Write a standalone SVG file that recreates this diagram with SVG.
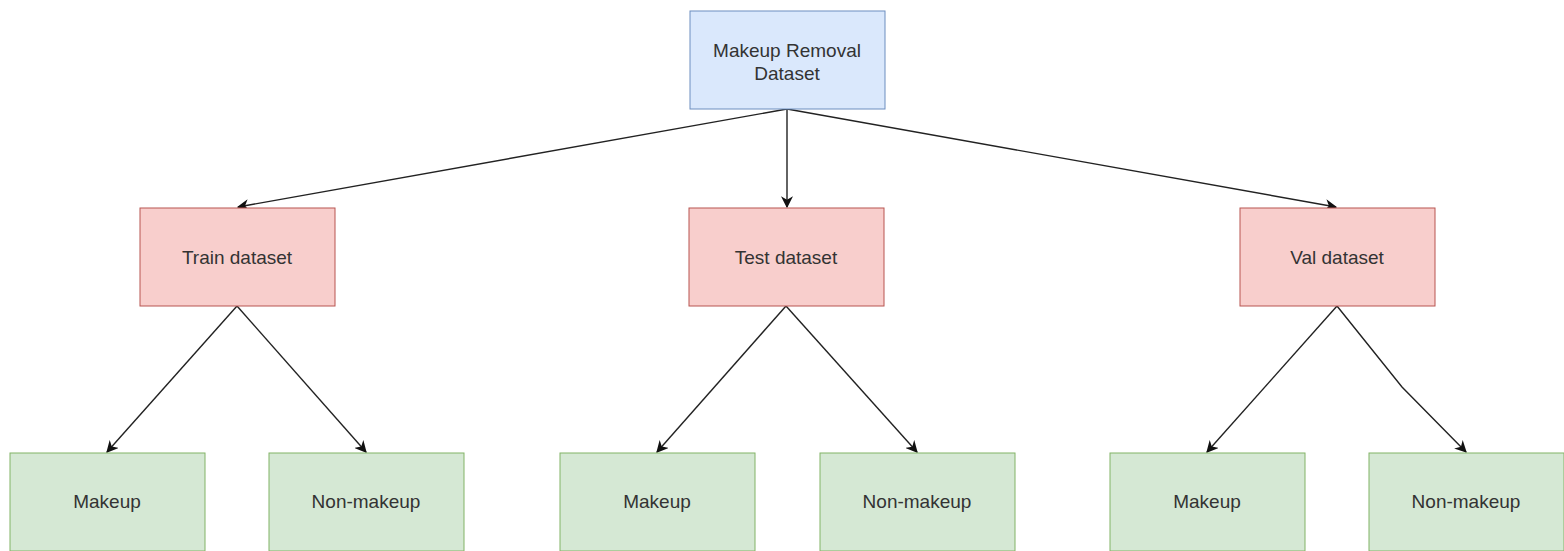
<svg xmlns="http://www.w3.org/2000/svg" width="1564" height="551" viewBox="0 0 1564 551">
  <style>
    .blue { fill: #dae8fc; stroke: #6c8ebf; stroke-width: 1; }
    .red { fill: #f8cecc; stroke: #b85450; stroke-width: 1; }
    .green { fill: #d5e8d4; stroke: #82b366; stroke-width: 1; }
    .lbl { font-family: "Liberation Sans", Arial, sans-serif; font-size: 19px; fill: #333333; text-anchor: middle; }
    .edge { fill: none; stroke: #222222; stroke-width: 1.4; marker-end: url(#arrow); }
  </style>
  <defs>
    <marker id="arrow" viewBox="0 0 10 10" refX="9" refY="5" markerWidth="12" markerHeight="12" markerUnits="userSpaceOnUse" orient="auto">
      <path d="M0,0 L10,5 L0,10 L3,5 Z" fill="#111111"/>
    </marker>
  </defs>
  <rect width="1564" height="551" fill="#ffffff"/>

  <g id="connectors">
    <path class="edge" d="M787,109 L238,207"/>
    <path class="edge" d="M787,109 L787,207"/>
    <path class="edge" d="M787,109 L1336,207"/>
    <path class="edge" d="M237,306 L107,452"/>
    <path class="edge" d="M237,306 L366,452"/>
    <path class="edge" d="M786,306 L657,452"/>
    <path class="edge" d="M786,306 L917,452"/>
    <path class="edge" d="M1337,306 L1402,387 L1466,452"/>
    <path class="edge" d="M1337,306 L1207,452"/>
  </g>

  <g id="root">
    <rect class="blue" x="690" y="11" width="195" height="98"/>
    <text class="lbl" x="787" y="57">Makeup Removal</text>
    <text class="lbl" x="787" y="80">Dataset</text>
  </g>

  <g id="train">
    <rect class="red" x="140" y="208" width="195" height="98"/>
    <text class="lbl" x="237" y="264">Train dataset</text>
  </g>
  <g id="test">
    <rect class="red" x="689" y="208" width="195" height="98"/>
    <text class="lbl" x="786" y="264">Test dataset</text>
  </g>
  <g id="val">
    <rect class="red" x="1240" y="208" width="195" height="98"/>
    <text class="lbl" x="1337" y="264">Val dataset</text>
  </g>

  <g id="train-makeup">
    <rect class="green" x="10" y="453" width="195" height="98"/>
    <text class="lbl" x="107" y="508">Makeup</text>
  </g>
  <g id="train-nonmakeup">
    <rect class="green" x="269" y="453" width="195" height="98"/>
    <text class="lbl" x="366" y="508">Non-makeup</text>
  </g>
  <g id="test-makeup">
    <rect class="green" x="560" y="453" width="195" height="98"/>
    <text class="lbl" x="657" y="508">Makeup</text>
  </g>
  <g id="test-nonmakeup">
    <rect class="green" x="820" y="453" width="195" height="98"/>
    <text class="lbl" x="917" y="508">Non-makeup</text>
  </g>
  <g id="val-makeup">
    <rect class="green" x="1110" y="453" width="195" height="98"/>
    <text class="lbl" x="1207" y="508">Makeup</text>
  </g>
  <g id="val-nonmakeup">
    <rect class="green" x="1369" y="453" width="195" height="98"/>
    <text class="lbl" x="1466" y="508">Non-makeup</text>
  </g>
</svg>
